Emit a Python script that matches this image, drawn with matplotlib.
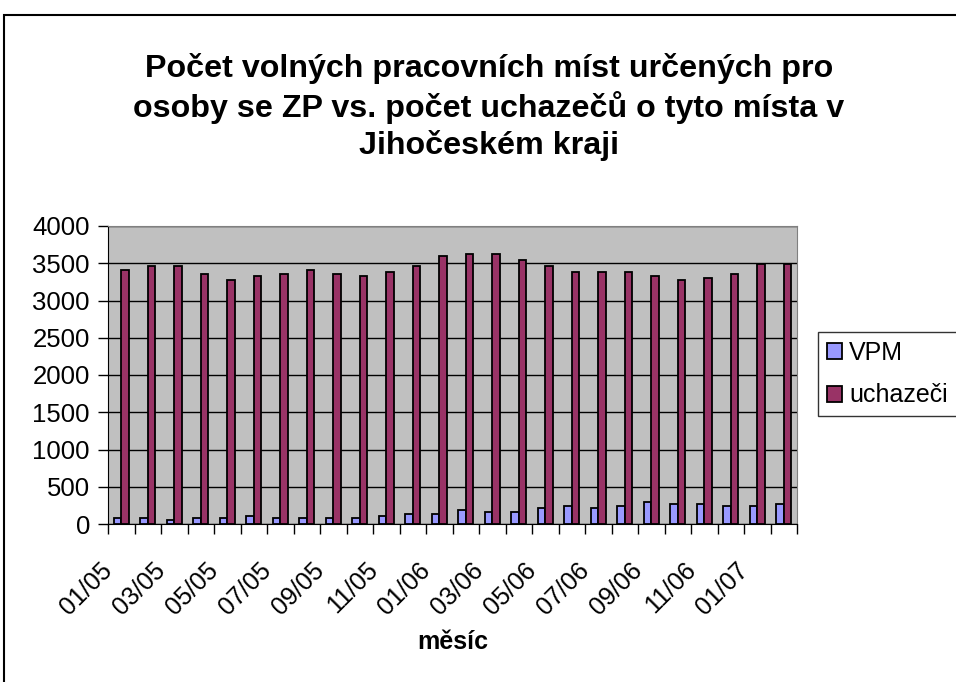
import numpy as np
import matplotlib.pyplot as plt
import matplotlib.transforms as mtransforms
from matplotlib.patches import Rectangle

plt.rcParams['font.family'] = ['Liberation Sans', 'DejaVu Sans']

mesice = ['01/05', '02/05', '03/05', '04/05', '05/05', '06/05', '07/05', '08/05',
          '09/05', '10/05', '11/05', '12/05', '01/06', '02/06', '03/06', '04/06',
          '05/06', '06/06', '07/06', '08/06', '09/06', '10/06', '11/06', '12/06',
          '01/07', '02/07']
vpm = [85, 85, 54, 85, 85, 112, 85, 85, 85, 85, 112, 139, 139,
       188, 157, 157, 215, 246, 215, 246, 295, 268, 268, 246, 246, 268]
uchazeci = [3410, 3460, 3460, 3355, 3275, 3330, 3355, 3410, 3355, 3330, 3385, 3460, 3595,
            3624, 3624, 3543, 3459, 3383, 3383, 3383, 3329, 3275, 3302, 3356, 3490, 3490]

fig = plt.figure(figsize=(9.56, 6.82), dpi=100)
# ramecek grafu
fig.patches.append(Rectangle((4/956, -0.05), 1.2, 1 - 15/682 + 0.05, transform=fig.transFigure,
                             fill=False, edgecolor='black', linewidth=1.5))

ax = fig.add_axes([108/956, 1 - 524/682, 689/956, 298/682])
ax.set_facecolor('#C0C0C0')

x = np.arange(len(mesice))
w = 0.29
ax.bar(x - w/2, vpm, w, color='#9999FF', edgecolor='black', linewidth=1.3, label='VPM', zorder=3)
ax.bar(x + w/2, uchazeci, w, color='#993366', edgecolor='black', linewidth=1.3, label='uchazeči', zorder=3)

ax.set_xlim(-0.5, len(mesice) - 0.5)
ax.set_ylim(0, 4000)
ax.set_yticks(np.arange(0, 4001, 500))
ax.yaxis.grid(True, color='black', linewidth=1, zorder=1)
ax.set_axisbelow(True)
ax.tick_params(axis='y', labelsize=18.5, length=7, width=1, direction='out', pad=6)

# hranice kategorii
ax.set_xticks(np.arange(-0.5, len(mesice)), minor=False)
ax.set_xticklabels([])
ax.tick_params(axis='x', length=7, width=1, direction='out')
offset = mtransforms.ScaledTranslation(-0.21, -0.34, fig.dpi_scale_trans)
for i in range(0, len(mesice), 2):
    ax.text(i, 0, mesice[i], rotation=45, rotation_mode='anchor', ha='right', va='top',
            fontsize=18, transform=ax.get_xaxis_transform() + offset, clip_on=False)

for s in ['top', 'right']:
    ax.spines[s].set_color('#808080')
for s in ['left', 'bottom']:
    ax.spines[s].set_color('black')

fig.text(489/956, 1 - 107/682,
         'Počet volných pracovních míst určených pro\nosoby se ZP vs. počet uchazečů o tyto místa v\nJihočeském kraji',
         ha='center', va='center', fontsize=23.2, fontweight='bold', linespacing=1.27)
fig.text(453/956, 1 - 642/682, 'měsíc', ha='center', va='center', fontsize=18, fontweight='bold')

leg = fig.legend(loc='upper left', bbox_to_anchor=(818/956, 1 - 332/682), fontsize=18,
                 frameon=True, fancybox=False, edgecolor='black', handlelength=0.6,
                 handleheight=0.6, handletextpad=0.3, labelspacing=0.75, borderpad=0.35,
                 borderaxespad=0)
leg.get_frame().set_linewidth(1)

fig.savefig('out.png', dpi=100)
